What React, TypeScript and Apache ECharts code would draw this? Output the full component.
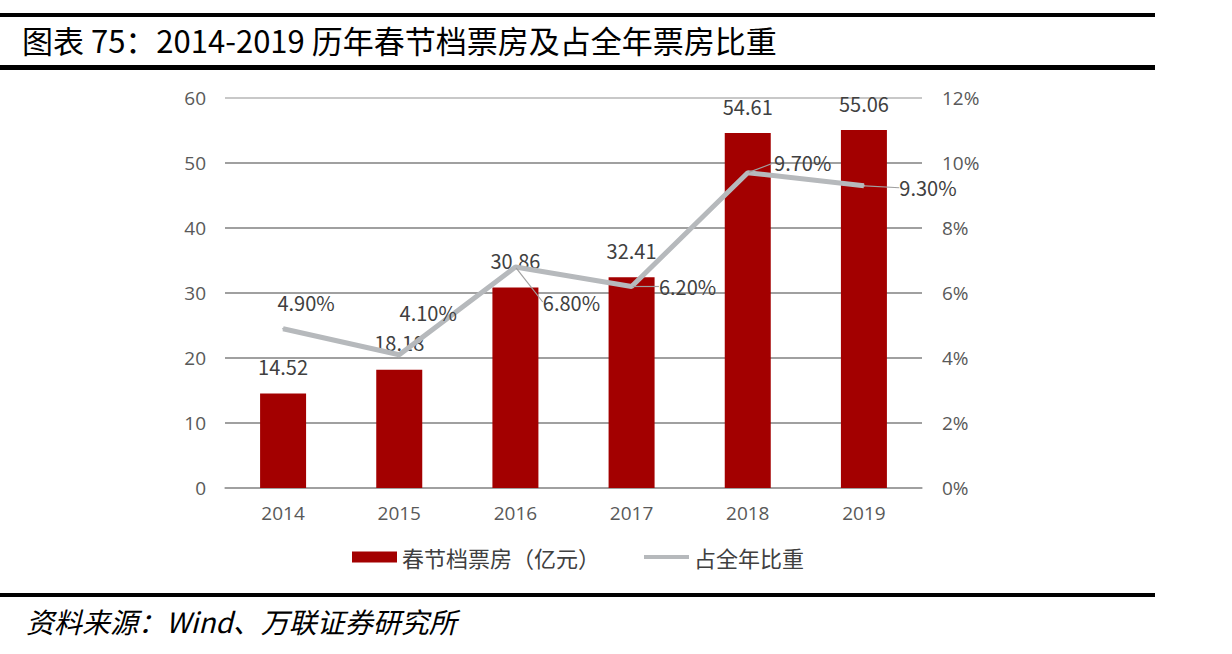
import React, { useEffect, useRef } from "react";
import * as echarts from "echarts";

const years = ["2014", "2015", "2016", "2017", "2018", "2019"];
const boxOffice = [14.52, 18.18, 30.86, 32.41, 54.61, 55.06];
const share = [4.9, 4.1, 6.8, 6.2, 9.7, 9.3];
// label offsets for the share line (dx, dy from each point)
const shareLabelDx = [23, 29, 56, 56, 55, 64];
const shareLabelDy = [-26, -42, 35, 0, -10, 2];
const shareLeader = [false, false, true, true, true, true];

const barName = "春节档票房（亿元）";
const lineName = "占全年比重";
const titleText = "图表 75：2014-2019 历年春节档票房及占全年票房比重";
const sourceText = "资料来源：Wind、万联证券研究所";

const CJK = "'Noto Sans CJK SC', 'Noto Sans', sans-serif";
const AXIS_FONT = "'Open Sans', 'Noto Sans', sans-serif";

export default function App() {
  const ref = useRef<HTMLDivElement>(null);

  useEffect(() => {
    if (!ref.current) return;
    const chart = echarts.init(ref.current, undefined, { renderer: "svg" });
    const gridColors = ["#a0a0a0", "#a0a0a0", "#a0a0a0", "#a0a0a0", "#a0a0a0", "#a0a0a0", "#c8c8c8"];

    chart.setOption({
      animation: false,
      backgroundColor: "#ffffff",
      graphic: [
        { type: "rect", shape: { x: 0, y: 13, width: 1155, height: 4 }, style: { fill: "#000" } },
        { type: "rect", shape: { x: 0, y: 65, width: 1155, height: 5 }, style: { fill: "#000" } },
        { type: "rect", shape: { x: 0, y: 593, width: 1155, height: 4 }, style: { fill: "#000" } },
        {
          type: "text",
          left: 22,
          top: 24,
          style: { text: titleText, font: `31px ${CJK}`, fill: "#000" },
        },
        {
          type: "text",
          left: 26,
          top: 607,
          style: { text: sourceText, font: `italic 28px ${CJK}`, fill: "#000" },
        },
      ],
      legend: {
        left: 347,
        top: 541,
        itemWidth: 45,
        itemHeight: 11,
        itemGap: 44,
        symbolKeepAspect: true,
        textStyle: { fontSize: 22, color: "#404040", fontFamily: CJK },
        data: [
          { name: barName, icon: "rect" },
          { name: lineName, icon: "path://M0,0 L45,0 L45,4 L0,4 Z" },
        ],
      },
      grid: { left: 225, right: 310, top: 98, bottom: 166 },
      xAxis: {
        type: "category",
        data: years,
        axisLine: { lineStyle: { color: "#a0a0a0", width: 1.5 } },
        axisTick: { show: false },
        axisLabel: { fontSize: 19, color: "#595959", margin: 15, fontFamily: AXIS_FONT },
      },
      yAxis: [
        {
          type: "value",
          min: 0,
          max: 60,
          interval: 10,
          axisLine: { show: false },
          axisTick: { show: false },
          axisLabel: { fontSize: 19, color: "#595959", margin: 19, fontFamily: AXIS_FONT },
          splitLine: { lineStyle: { color: gridColors, width: 1.8 } },
        },
        {
          type: "value",
          min: 0,
          max: 12,
          interval: 2,
          axisLine: { show: false },
          axisTick: { show: false },
          splitLine: { show: false },
          axisLabel: {
            fontSize: 19,
            color: "#595959",
            margin: 20,
            fontFamily: AXIS_FONT,
            formatter: (v: number) => `${v}%`,
          },
        },
      ],
      series: [
        {
          name: barName,
          type: "bar",
          data: boxOffice,
          barWidth: 46,
          itemStyle: { color: "#a30000" },
          label: {
            show: true,
            position: "top",
            distance: 17,
            fontSize: 20,
            color: "#404040",
            fontFamily: CJK,
            formatter: (p: any) => p.value.toFixed(2),
          },
        },
        {
          name: lineName,
          type: "line",
          yAxisIndex: 1,
          data: share.map((v, i) => ({
            value: v,
            labelLine: { show: shareLeader[i] },
          })),
          symbol: "circle",
          symbolSize: 2,
          showSymbol: true,
          itemStyle: { color: "#b6b9bc" },
          lineStyle: { color: "#b6b9bc", width: 5 },
          z: 3,
          label: {
            show: true,
            position: "inside",
            fontSize: 20,
            color: "#404040",
            fontFamily: CJK,
            formatter: (p: any) => `${Number(p.value).toFixed(2)}%`,
          },
          labelLine: { show: true, lineStyle: { color: "#a0a0a0", width: 1.2 } },
          labelLayout: (p: any) => ({
            dx: shareLabelDx[p.dataIndex],
            dy: shareLabelDy[p.dataIndex],
          }),
        },
      ],
    });

    return () => chart.dispose();
  }, []);

  return (
    <div
      ref={ref}
      style={{ position: "fixed", left: 0, top: 0, width: 1232, height: 654, background: "#fff" }}
    />
  );
}
